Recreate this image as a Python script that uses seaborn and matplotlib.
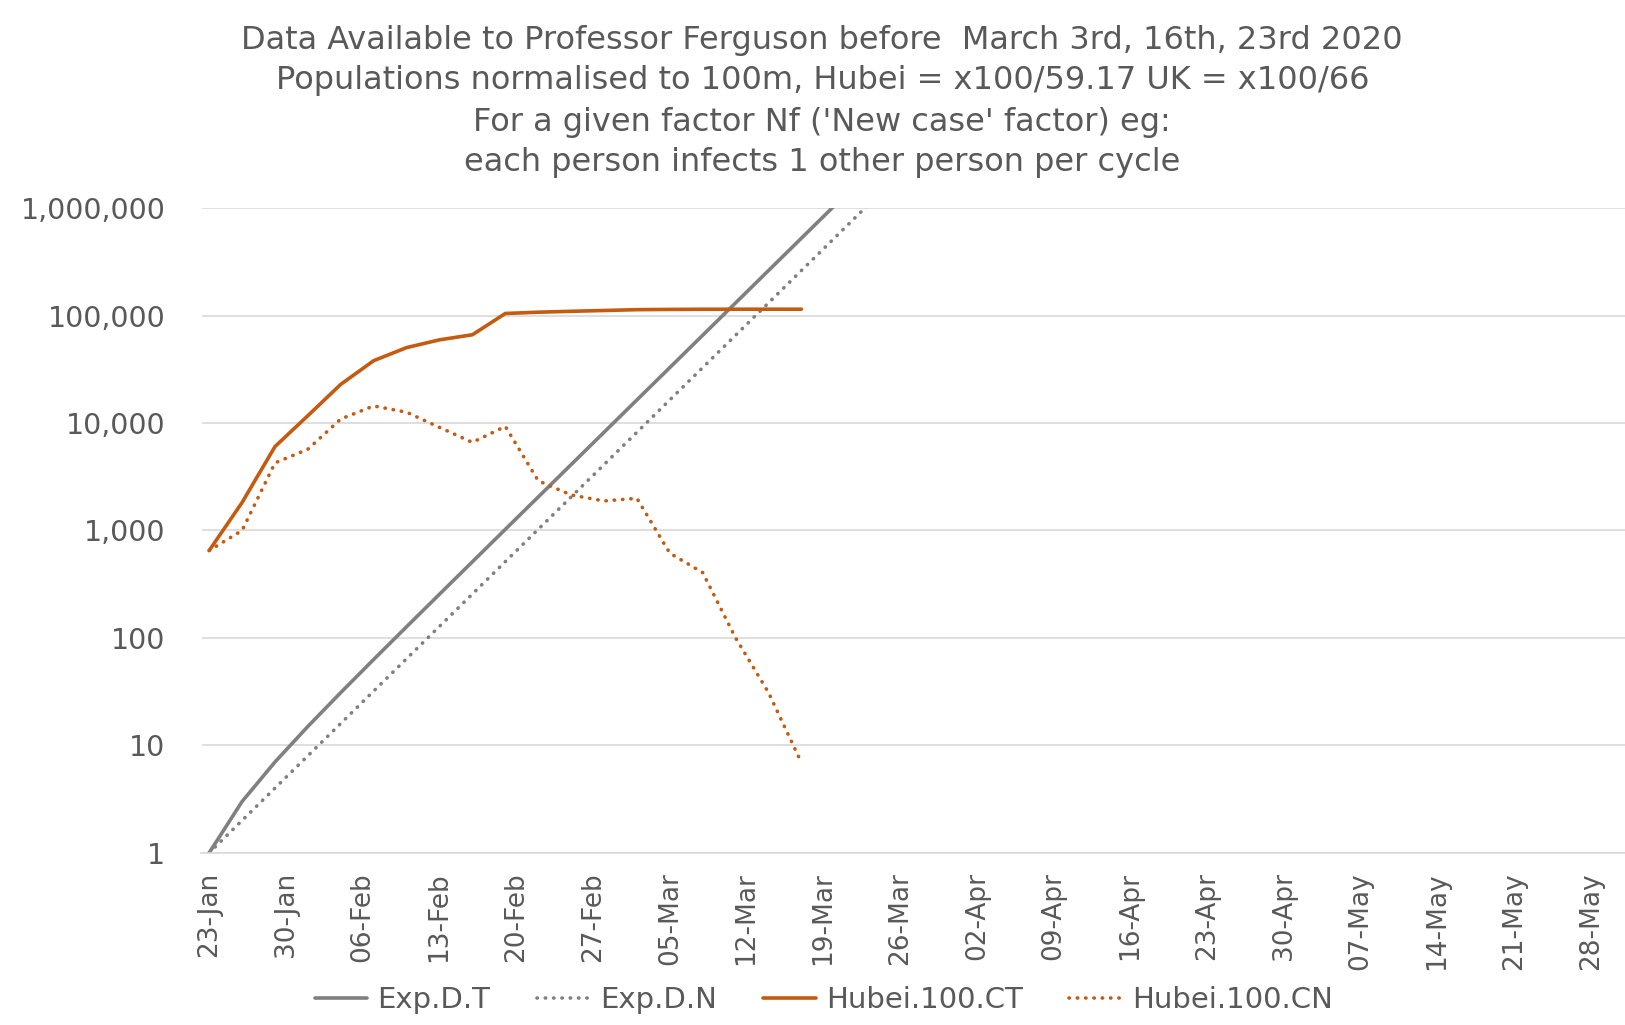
import pandas as pd
import matplotlib.pyplot as plt
import matplotlib.dates as mdates
from matplotlib.ticker import FixedLocator, FuncFormatter
import seaborn as sns

# one point every 3 days (one "cycle") from 23 Jan 2020
exp_dates = pd.date_range("2020-01-23", periods=21, freq="3D")
hubei_dates = pd.date_range("2020-01-23", periods=19, freq="3D")

# exponential model: total and new cases per cycle
exp_total = [1, 3, 7, 15, 31, 63, 127, 255, 511, 1023, 2047, 4095, 8191,
             16383, 32767, 65535, 131071, 262143, 524287, 1048575]
exp_new = [1, 2, 4, 8, 16, 32, 64, 128, 256, 512, 1024, 2048, 4096, 8192,
           16384, 32768, 65536, 131072, 262144, 524288, 1048576]

# Hubei, normalised to 100m (x100/59.17)
hubei_total = [650, 1820, 6030, 11700, 22900, 38000, 50300, 59400, 66200,
               104500, 107400, 109500, 111400, 113400, 114000, 114400,
               114500, 114530, 114540]
hubei_new = [650, 1000, 4250, 5700, 10900, 14400, 12600, 9100, 6600, 9300,
             2900, 2140, 1880, 1990, 615, 405, 100, 31, 6.9]

title_lines = ["Data Available to Professor Ferguson before  March 3rd, 16th, 23rd 2020",
               "Populations normalised to 100m, Hubei = x100/59.17 UK = x100/66",
               "For a given factor Nf ('New case' factor) eg:",
               "each person infects 1 other person per cycle"]

grey = "#808080"
orange = "#C55A11"
text_col = "#595959"

sns.set_theme(style="white")
plt.rcParams["font.family"] = ["DejaVu Sans"]

fig = plt.figure(figsize=(16.25, 10.25), dpi=100)
ax = fig.add_axes([0.124, 0.168, 0.876, 0.629])

dots = (0, (0.1, 2.2))
sns.lineplot(x=exp_dates[:len(exp_total)], y=exp_total, ax=ax, color=grey,
             lw=2.6, label="Exp.D.T")
sns.lineplot(x=exp_dates, y=exp_new, ax=ax, color=grey, lw=2.6,
             linestyle=dots, dash_capstyle="round", label="Exp.D.N")
sns.lineplot(x=hubei_dates, y=hubei_total, ax=ax, color=orange, lw=2.6,
             label="Hubei.100.CT")
sns.lineplot(x=hubei_dates, y=hubei_new, ax=ax, color=orange, lw=2.6,
             linestyle=dots, dash_capstyle="round", label="Hubei.100.CN")

ax.set_yscale("log")
ax.set_ylim(1, 1e6)
ax.yaxis.set_major_locator(FixedLocator([1, 10, 100, 1e3, 1e4, 1e5, 1e6]))
ax.yaxis.set_minor_locator(FixedLocator([]))
ax.yaxis.set_major_formatter(FuncFormatter(lambda v, p: f"{v:,.0f}"))

start = pd.Timestamp("2020-01-23")
ax.set_xlim(start - pd.Timedelta(days=0.7), start + pd.Timedelta(days=129.1))
ax.xaxis.set_major_locator(mdates.WeekdayLocator(byweekday=mdates.TH))
ax.xaxis.set_major_formatter(mdates.DateFormatter("%d-%b"))

ax.grid(axis="y", color="#D9D9D9", lw=1.2)
ax.grid(axis="x", visible=False)
for s in ["top", "left", "right"]:
    ax.spines[s].set_visible(False)
ax.spines["bottom"].set_color("#D9D9D9")
ax.spines["bottom"].set_linewidth(1.2)

ax.tick_params(axis="y", length=0, labelsize=20.5, labelcolor=text_col, pad=26)
ax.tick_params(axis="x", length=0, labelsize=19, labelcolor=text_col,
               rotation=90, pad=14)
ax.set_xlabel("")
ax.set_ylabel("")

for i, line in enumerate(title_lines):
    fig.text(0.506, 1 - (40 + i * 41) / 1025, line, ha="center", va="center",
             fontsize=23, color=text_col)

ax.legend_.remove()
handles, labels = ax.get_legend_handles_labels()
fig.legend(handles, labels, loc="center", bbox_to_anchor=(0.507, 1 - 1000 / 1025),
           ncol=4, frameon=False, fontsize=21, labelcolor=text_col,
           handlelength=1.8, columnspacing=1.6, handletextpad=0.35)

fig.savefig("out.png", dpi=100, facecolor="white")
